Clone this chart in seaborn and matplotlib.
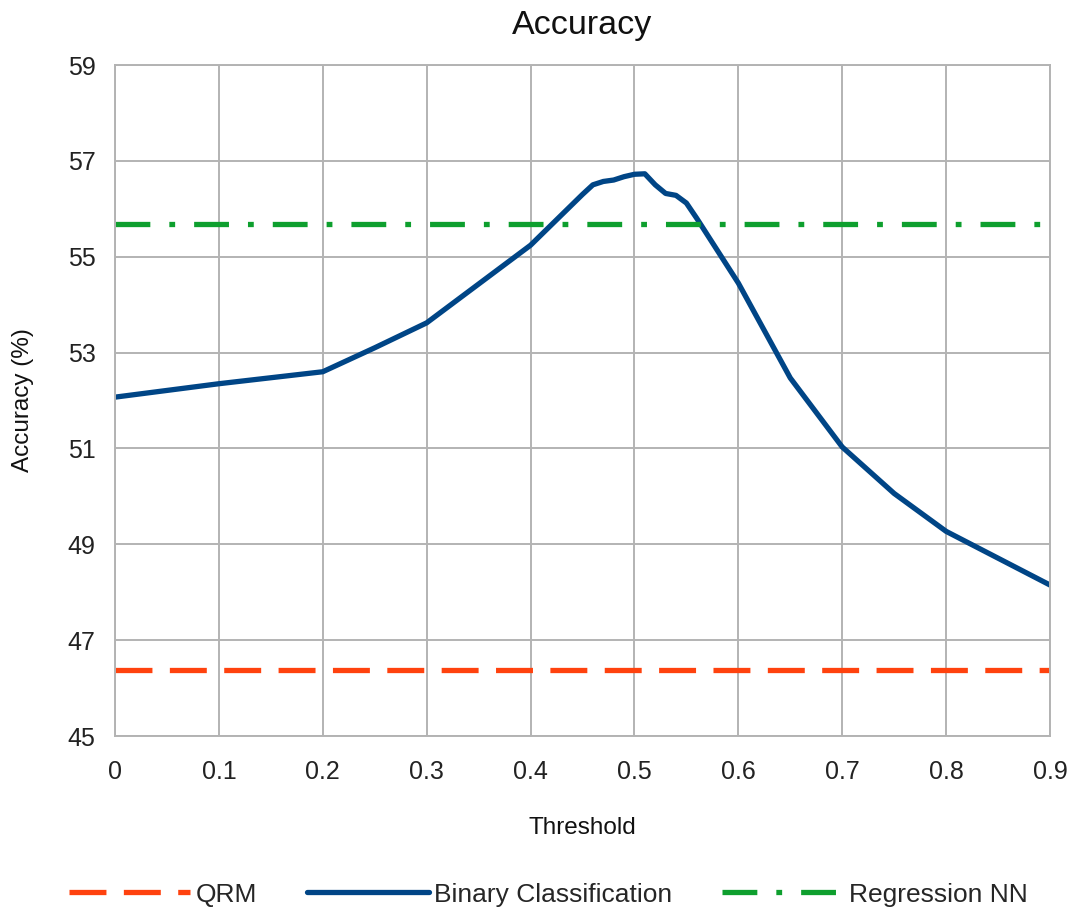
import pandas as pd
import matplotlib
matplotlib.use("Agg")
import matplotlib.pyplot as plt
import seaborn as sns

# ─── Data ────────────────────────────────────────────────────────────────────
thresholds = [0.0, 0.1, 0.2, 0.25, 0.3, 0.35, 0.4, 0.45, 0.46, 0.47, 0.48,
              0.49, 0.5, 0.51, 0.52, 0.53, 0.54, 0.55, 0.56, 0.6, 0.65,
              0.7, 0.75, 0.8, 0.9]
binary_acc = [52.07, 52.35, 52.6, 53.1, 53.62, 54.43, 55.24, 56.3, 56.5,
              56.57, 56.6, 56.67, 56.72, 56.73, 56.5, 56.32, 56.28, 56.12,
              55.8, 54.45, 52.47, 51.03, 50.06, 49.27, 48.15]
qrm_acc = 46.38
regression_nn_acc = 55.68

x_range = [0.0, 0.9]
y_ticks = [45, 47, 49, 51, 53, 55, 57, 59]
x_ticks = [0, 0.1, 0.2, 0.3, 0.4, 0.5, 0.6, 0.7, 0.8, 0.9]
x_tick_labels = ["0", "0.1", "0.2", "0.3", "0.4", "0.5", "0.6", "0.7", "0.8", "0.9"]

# colours
C_QRM = "#ff420e"
C_BIN = "#004586"
C_REG = "#0e9f2e"
C_GRID = "#b3b3b3"

sns.set_theme(style="white")
plt.rcParams["font.family"] = ["Liberation Sans", "DejaVu Sans"]

fig = plt.figure(figsize=(10.75, 9.14), dpi=100)
ax = fig.add_axes([115 / 1075, 1 - 736 / 914, 935 / 1075, 671 / 914])

lw = 3.8
sns.lineplot(x=x_range, y=[qrm_acc, qrm_acc], ax=ax, color=C_QRM, lw=lw,
             label="QRM")
sns.lineplot(x=thresholds, y=binary_acc, ax=ax, color=C_BIN, lw=lw,
             label="Binary Classification", sort=False)
sns.lineplot(x=x_range, y=[regression_nn_acc, regression_nn_acc], ax=ax,
             color=C_REG, lw=lw, label="Regression NN")

lines = ax.get_lines()
lines[0].set_dashes((7.0, 3.3))
lines[0].set_solid_capstyle("butt")
lines[1].set_solid_joinstyle("round")
lines[2].set_dashes((6.6, 3.6, 1.1, 3.6))

ax.set_xlim(0, 0.9)
ax.set_ylim(45, 59)
ax.set_xticks(x_ticks)
ax.set_xticklabels(x_tick_labels)
ax.set_yticks(y_ticks)
ax.grid(True, color=C_GRID, lw=1.4)
ax.set_axisbelow(True)
for sp in ax.spines.values():
    sp.set_color(C_GRID)
    sp.set_linewidth(1.4)
ax.tick_params(axis="both", length=8, width=1.4, color=C_GRID,
               labelsize=18, labelcolor="#222222")
ax.tick_params(axis="x", pad=9)
ax.tick_params(axis="y", pad=6)

ax.set_title("Accuracy", fontsize=24.5, pad=22, color="#111111")
ax.set_xlabel("Threshold", fontsize=17.5, labelpad=24, color="#111111")
ax.set_ylabel("Accuracy (%)", fontsize=17.5, labelpad=24, color="#111111")

handles, labels = ax.get_legend_handles_labels()
ax.get_legend().remove()
fig.legend(handles, labels, loc="lower center", bbox_to_anchor=(0.51, -0.018),
           ncol=3, frameon=False, fontsize=19, handlelength=4.6,
           handletextpad=0.2, columnspacing=1.9)

fig.savefig("out.png", dpi=100)
plt.close(fig)
